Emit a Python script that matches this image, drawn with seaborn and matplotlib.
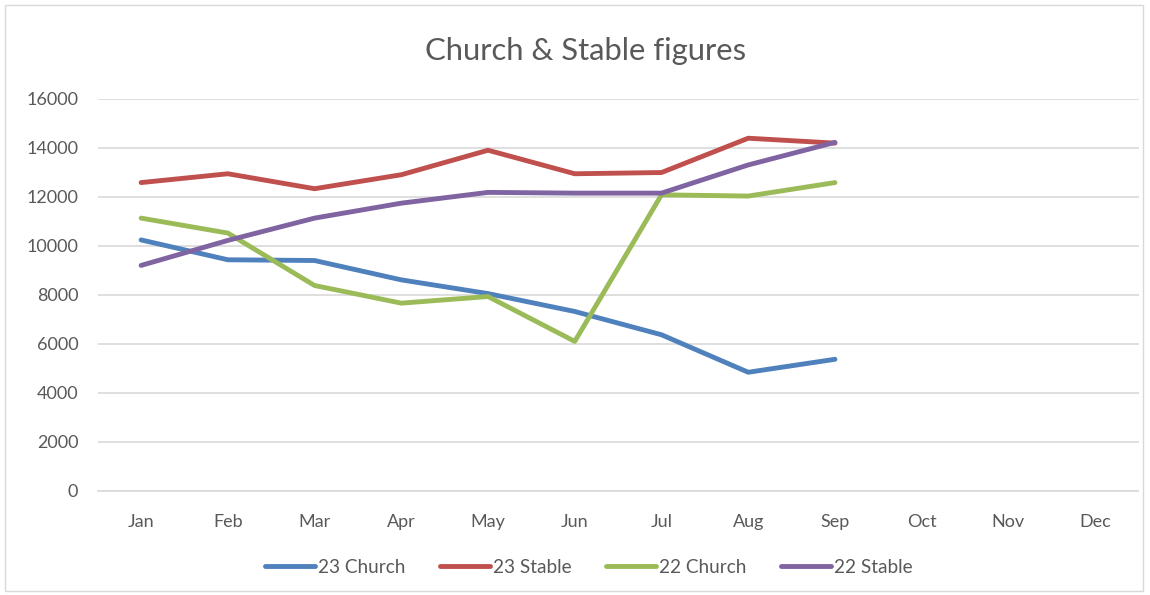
import matplotlib
matplotlib.use("Agg")
import matplotlib.pyplot as plt
import pandas as pd
import seaborn as sns

# Data
months = ["Jan", "Feb", "Mar", "Apr", "May", "Jun", "Jul", "Aug", "Sep", "Oct", "Nov", "Dec"]
church_23 = [10240, 9430, 9400, 8610, 8050, 7320, 6370, 4840, 5370]
stable_23 = [12580, 12940, 12330, 12900, 13900, 12940, 12990, 14390, 14190]
church_22 = [11130, 10520, 8380, 7660, 7930, 6100, 12080, 12030, 12580]
stable_22 = [9200, 10220, 11130, 11740, 12180, 12150, 12150, 13300, 14220]

series = {
    "23 Church": church_23,
    "23 Stable": stable_23,
    "22 Church": church_22,
    "22 Stable": stable_22,
}
colors = ["#4F81BD", "#C0504D", "#9BBB59", "#8064A2"]

rows = []
for name, vals in series.items():
    for i, v in enumerate(vals):
        rows.append({"month": i, "value": v, "series": name})
df = pd.DataFrame(rows)

sns.set_theme(style="white")
plt.rcParams["font.family"] = ["Lato", "DejaVu Sans"]

fig = plt.figure(figsize=(11.5, 5.95), dpi=100)
ax = fig.add_axes([0.085, 0.175, 0.905, 0.659])

sns.lineplot(data=df, x="month", y="value", hue="series", palette=colors,
             linewidth=3.5, ax=ax, legend=True)

ax.set_xlim(-0.5, 11.5)
ax.set_ylim(0, 16000)
ax.set_xticks(range(len(months)))
ax.set_xticklabels(months)
ax.set_yticks(range(0, 16001, 2000))
ax.yaxis.grid(True, color="#D9D9D9", linewidth=1.2)
ax.set_axisbelow(True)
for s in ["top", "right", "left"]:
    ax.spines[s].set_visible(False)
ax.spines["bottom"].set_color("#D9D9D9")
ax.spines["bottom"].set_linewidth(1.2)
ax.tick_params(axis="both", length=0, labelsize=13, labelcolor="#595959")
ax.tick_params(axis="x", pad=17)
ax.tick_params(axis="y", pad=14)
ax.set_xlabel("")
ax.set_ylabel("")

for line in ax.get_lines():
    line.set_solid_capstyle("round")

ax.legend_.remove()
handles, labels = ax.get_legend_handles_labels()
for h in handles:
    h.set_linewidth(3.5)
fig.legend(handles, labels, loc="center", bbox_to_anchor=(0.512, 0.047), ncol=4,
           frameon=False, fontsize=13.7, labelcolor="#595959",
           handlelength=2.65, handletextpad=0.15, columnspacing=1.8)

fig.text(0.509, 0.915, "Church & Stable figures", ha="center", va="center",
         fontsize=22.3, color="#595959")

fig.patches.append(plt.Rectangle((0.004, 0.006), 0.99, 0.985, transform=fig.transFigure,
                                 fill=False, edgecolor="#D9D9D9", linewidth=1))

fig.savefig("out.png", dpi=100)
